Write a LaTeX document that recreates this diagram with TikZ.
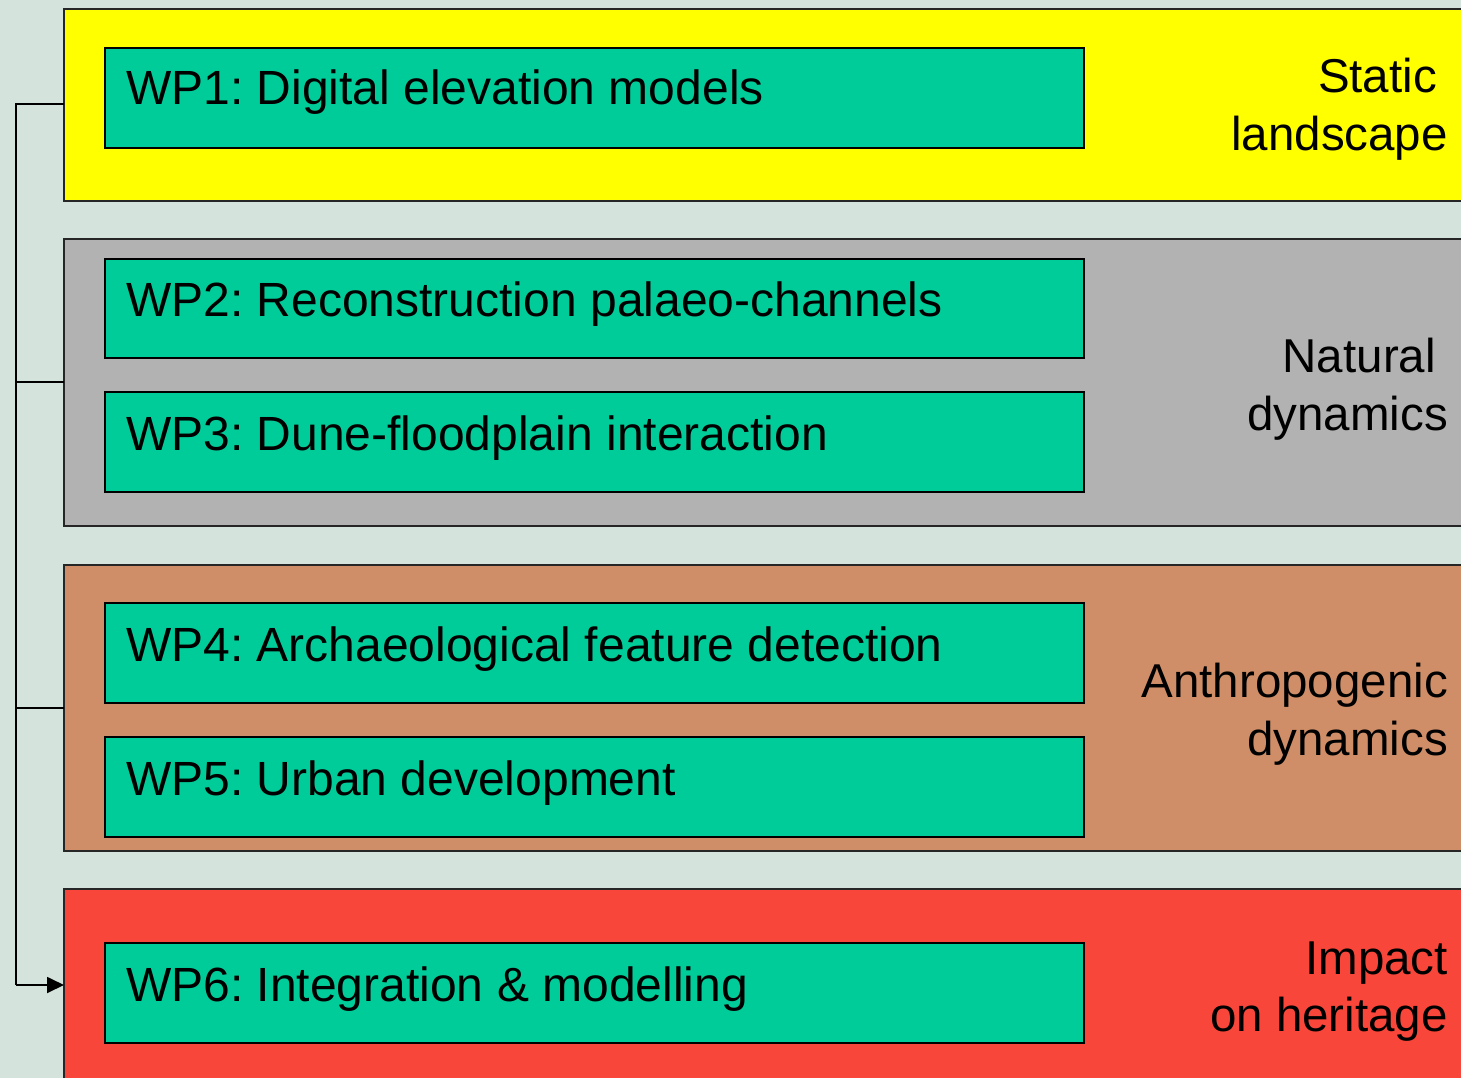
\documentclass[tikz,border=0pt]{standalone}
\usepackage{fontspec}
\setmainfont{Liberation Sans}
\usetikzlibrary{arrows.meta}
\frenchspacing
\definecolor{bgc}{HTML}{D4E4DC}
\definecolor{bandyellow}{HTML}{FFFF00}
\definecolor{bandgray}{HTML}{B2B2B2}
\definecolor{bandbrown}{HTML}{CF8E67}
\definecolor{bandred}{HTML}{F8473A}
\definecolor{wpgreen}{HTML}{00CC99}
\tikzset{
  band/.style={draw=black!85, line width=1.6pt},
  wpbox/.style={draw=black, line width=1.8pt, fill=wpgreen},
  wptext/.style={anchor=base west, inner sep=0pt, font=\fontsize{48}{58}\selectfont},
  bandtext/.style={anchor=base east, inner sep=0pt, font=\fontsize{47.5}{58}\selectfont},
  link/.style={draw=black, line width=1.8pt}
}
\begin{document}
\begin{tikzpicture}[x=1pt,y=-1pt]
  \useasboundingbox (0,0) rectangle (1461,1078);
  \fill[bgc] (0,0) rectangle (1461,1078);

  % colour bands (they run past the right and bottom edges)
  \path[band, fill=bandyellow] (64,9) rectangle (1480,201);
  \path[band, fill=bandgray]   (64,239) rectangle (1480,526);
  \path[band, fill=bandbrown]  (64,565) rectangle (1480,851);
  \path[band, fill=bandred]    (64,889) rectangle (1480,1100);

  % band anchors for the connector
  \coordinate (b1) at (64,104);
  \coordinate (b2) at (64,382);
  \coordinate (b3) at (64,708);
  \coordinate (b4) at (64,985);
  \coordinate (t1) at (16,104);
  \coordinate (t2) at (16,382);
  \coordinate (t3) at (16,708);
  \coordinate (t4) at (16,985);

  % work-package boxes
  \path[wpbox] (105,48)  rectangle (1084,148);
  \path[wpbox] (105,259) rectangle (1084,358);
  \path[wpbox] (105,392) rectangle (1084,492);
  \path[wpbox] (105,603) rectangle (1084,703);
  \path[wpbox] (105,737) rectangle (1084,837);
  \path[wpbox] (105,943) rectangle (1084,1043);

  \node[wptext] (wp1) at (126,105)  {WP1: Digital elevation models};
  \node[wptext] (wp2) at (126,316)  {WP2: Reconstruction palaeo-channels};
  \node[wptext] (wp3) at (126,450)  {WP3: Dune-floodplain interaction};
  \node[wptext] (wp4) at (126,661)  {WP4: Archaeological feature detection};
  \node[wptext] (wp5) at (126,795)  {WP5: Urban development};
  \node[wptext] (wp6) at (126,1001) {WP6: Integration \& modelling};

  % band titles
  \node[bandtext] (s1a) at (1437,93)   {Static};
  \node[bandtext] (s1b) at (1448,151)  {landscape};
  \node[bandtext] (s2a) at (1436,372)  {Natural};
  \node[bandtext] (s2b) at (1448,430)  {dynamics};
  \node[bandtext] (s3a) at (1448,697)  {Anthropogenic};
  \node[bandtext] (s3b) at (1448,755)  {dynamics};
  \node[bandtext] (s4a) at (1448,974)  {Impact};
  \node[bandtext] (s4b) at (1448,1031) {on heritage};

  % feed-through connector into WP6
  \draw[link] (b1) -- (t1) -- (t4);
  \draw[link] (t2) -- (b2);
  \draw[link] (t3) -- (b3);
  \draw[link, -{Triangle[length=17pt,width=16pt]}] (t4) -- (b4);
\end{tikzpicture}
\end{document}
